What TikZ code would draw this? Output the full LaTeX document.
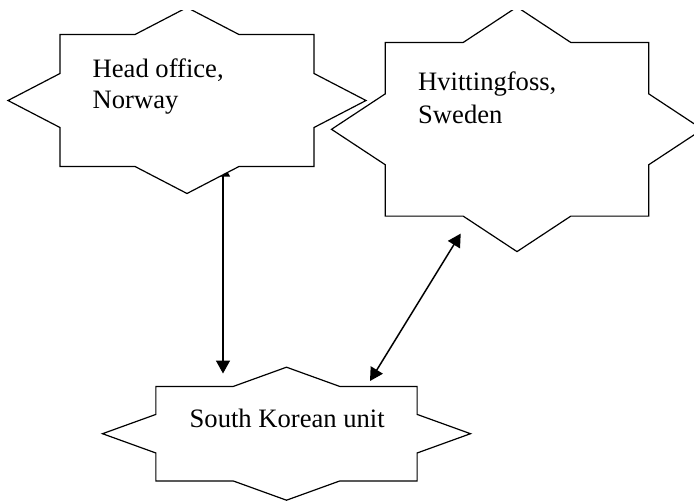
\documentclass[tikz,border=0pt]{standalone}
\usepackage{fontspec}
\setmainfont{Liberation Serif}
\usetikzlibrary{arrows.meta}
\tikzset{
  starline/.style={draw=black, line width=1.2pt, fill=white, line join=miter},
  starbox/.style={draw=none, inner sep=0pt, rectangle},
  lbl/.style={inner sep=0pt, anchor=base west, font=\fontsize{26.6}{31}\selectfont},
  conn/.style={line width=1.5pt, {Triangle[length=13pt,width=14pt]}-{Triangle[length=13pt,width=14pt]}}
}
\newcommand\eightstar[5]{%
  \draw[starline, shift={(#2,#3)}, xscale=#4, yscale=#5]
    (0,-1) -- (0.29,-0.71) -- (0.71,-0.71) -- (0.71,-0.29) -- (1,0)
    -- (0.71,0.29) -- (0.71,0.71) -- (0.29,0.71) -- (0,1)
    -- (-0.29,0.71) -- (-0.71,0.71) -- (-0.71,0.29) -- (-1,0)
    -- (-0.71,-0.29) -- (-0.71,-0.71) -- (-0.29,-0.71) -- cycle;
  \node[starbox, minimum width={2*#4}, minimum height={2*#5}] (#1) at (#2,#3) {};
}
\begin{document}
\begin{tikzpicture}[x=1pt,y=-1pt]
\useasboundingbox (0,0) rectangle (694,501);
\begin{scope}
\clip (0,10) rectangle (694,501);
% invisible placeholders first to name the shapes for the connectors
\node[starbox, minimum width=358, minimum height=186] (ho0) at (187,100.5) {};
\node[starbox, minimum width=371, minimum height=245] (hv0) at (517,129.3) {};
\node[starbox, minimum width=368, minimum height=133] (sk0) at (286.5,433.7) {};
% connectors (drawn under the stars)
\draw[conn] ([xshift=36pt,yshift=30pt]ho0.south) -- ([xshift=-63.5pt,yshift=-6.5pt]sk0.north);
\draw[conn] ([xshift=-56.3pt,yshift=18.4pt]hv0.south) -- ([xshift=83.5pt,yshift=-14pt]sk0.north);
% stars
\eightstar{ho}{187}{100.5}{179}{93}
\eightstar{hv}{517}{129.3}{185.5}{122.3}
\eightstar{sk}{286.5}{433.7}{184}{66.5}
% labels
\node[lbl] (ho1) at (92.5,77.7) {Head office,};
\node[lbl] (ho2) at (92.5,108.7) {Norway};
\node[lbl] (hv1) at (418,90.7) {Hvittingfoss,};
\node[lbl] (hv2) at (418,123.7) {Sweden};
\node[lbl] (sk1) at (189.5,427.3) {South Korean unit};
\end{scope}
\end{tikzpicture}
\end{document}
